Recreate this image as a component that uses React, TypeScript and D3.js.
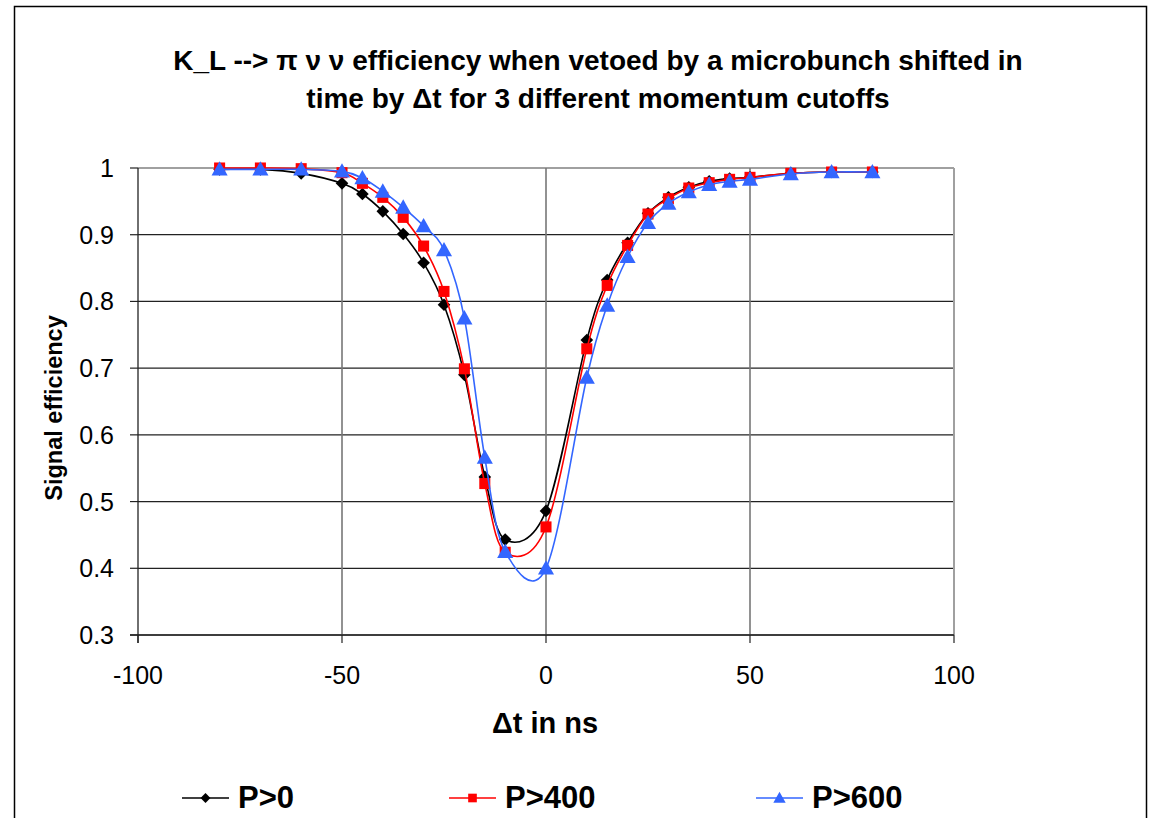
import React from "react";
import * as d3 from "d3";

const deltaT = [-80, -70, -60, -50, -45, -40, -35, -30, -25, -20, -15, -10, 0, 10, 15, 20, 25, 30, 35, 40, 45, 50, 60, 70, 80];
const effP0 = [0.998, 0.998, 0.992, 0.977, 0.961, 0.935, 0.901, 0.858, 0.795, 0.690, 0.537, 0.443, 0.486, 0.742, 0.832, 0.888, 0.932, 0.956, 0.971, 0.980, 0.984, 0.986, 0.992, 0.994, 0.994];
const effP400 = [1.0, 1.0, 0.999, 0.993, 0.977, 0.956, 0.926, 0.883, 0.815, 0.699, 0.527, 0.424, 0.462, 0.729, 0.824, 0.884, 0.931, 0.954, 0.970, 0.978, 0.983, 0.986, 0.992, 0.994, 0.994];
const effP600 = [0.998, 0.998, 0.998, 0.995, 0.985, 0.965, 0.941, 0.913, 0.877, 0.775, 0.566, 0.425, 0.400, 0.686, 0.794, 0.867, 0.918, 0.947, 0.964, 0.975, 0.980, 0.983, 0.991, 0.994, 0.994];
const seriesNames = ["P>0", "P>400", "P>600"];
const xTicks = [-100, -50, 0, 50, 100];
const yTicks = [0.3, 0.4, 0.5, 0.6, 0.7, 0.8, 0.9, 1];
const titleLines = [
  "K_L --> \u03c0 \u03bd \u03bd efficiency when vetoed by a microbunch shifted in",
  "time by \u0394t for 3 different momentum cutoffs",
];

const W = 1149;
const H = 818;
const plot = { left: 138, right: 954, top: 168, bottom: 635 };
const colors = ["#000000", "#ff0000", "#3366ff"];
const FONT = "'Liberation Sans', Arial, sans-serif";

function Marker({ kind, x, y, s, color }: { kind: number; x: number; y: number; s: number; color: string }) {
  if (kind === 0) {
    const r = s * 0.55;
    return <path d={`M${x},${y - r}L${x + r},${y}L${x},${y + r}L${x - r},${y}Z`} fill={color} />;
  }
  if (kind === 1) {
    const r = s * 0.48;
    return <rect x={x - r} y={y - r} width={2 * r} height={2 * r} fill={color} />;
  }
  const w = s * 0.62;
  return <path d={`M${x},${y - w}L${x + w},${y + w * 0.78}L${x - w},${y + w * 0.78}Z`} fill={color} />;
}

export default function App() {
  const x = d3.scaleLinear().domain([-100, 100]).range([plot.left, plot.right]);
  const y = d3.scaleLinear().domain([0.3, 1]).range([plot.bottom, plot.top]);
  const series = [effP0, effP400, effP600];
  const line = d3
    .line<[number, number]>()
    .x((d) => x(d[0]))
    .y((d) => y(d[1]))
    .curve(d3.curveCardinal.tension(0));

  const legendX = [182, 449, 756];

  return (
    <svg width={W} height={H} style={{ position: "absolute", left: 0, top: 0, background: "#fff" }} fontFamily={FONT}>
      <rect x={0} y={0} width={W} height={H} fill="#fff" />
      <rect x={14.5} y={6.5} width={1132} height={840} fill="none" stroke="#000" strokeWidth={1.5} />

      {titleLines.map((t, i) => (
        <text key={i} x={598} y={70 + i * 38} textAnchor="middle" fontSize={28} fontWeight="bold" fill="#000">
          {t}
        </text>
      ))}

      {/* horizontal gridlines */}
      {yTicks.map((t) => (
        <line key={"h" + t} x1={plot.left} x2={plot.right} y1={y(t)} y2={y(t)} stroke={t === 1 ? "#a0a0a0" : "#222"} strokeWidth={t === 1 ? 2 : 1.2} />
      ))}
      {/* vertical gridlines */}
      {xTicks.filter((t) => t !== -100).map((t) => (
        <line key={"v" + t} x1={x(t)} x2={x(t)} y1={plot.top} y2={plot.bottom} stroke={t === 100 ? "#a0a0a0" : "#777"} strokeWidth={t === 100 ? 2 : 1.6} />
      ))}
      {/* axes */}
      <line x1={plot.left} x2={plot.left} y1={plot.top} y2={plot.bottom + 8} stroke="#222" strokeWidth={1.3} />
      <line x1={plot.left - 8} x2={plot.right} y1={plot.bottom} y2={plot.bottom} stroke="#222" strokeWidth={1.3} />
      {yTicks.map((t) => (
        <g key={"yt" + t}>
          <line x1={plot.left - 8} x2={plot.left} y1={y(t)} y2={y(t)} stroke="#222" strokeWidth={1.2} />
          <text x={114} y={y(t)} dy="0.36em" textAnchor="end" fontSize={25} fill="#000">
            {d3.format("")(t)}
          </text>
        </g>
      ))}
      {xTicks.map((t) => (
        <g key={"xt" + t}>
          <line x1={x(t)} x2={x(t)} y1={plot.bottom} y2={plot.bottom + 8} stroke="#222" strokeWidth={1.2} />
          <text x={x(t)} y={684} textAnchor="middle" fontSize={25} fill="#000">
            {t}
          </text>
        </g>
      ))}

      <text x={545} y={733} textAnchor="middle" fontSize={29} fontWeight="bold" fill="#000">
        {"\u0394t in ns"}
      </text>
      <text transform={`translate(62,408) rotate(-90)`} textAnchor="middle" fontSize={23.5} fontWeight="bold" fill="#000">
        Signal efficiency
      </text>

      {series.map((vals, si) => {
        const pts = deltaT.map((t, i) => [t, vals[i]] as [number, number]);
        return (
          <g key={"s" + si}>
            <path d={line(pts) || ""} fill="none" stroke={colors[si]} strokeWidth={1.6} />
            {pts.map((p, i) => (
              <Marker key={i} kind={si} x={x(p[0])} y={y(p[1])} s={si === 2 ? 13 : 11.5} color={colors[si]} />
            ))}
          </g>
        );
      })}

      {seriesNames.map((n, i) => (
        <g key={"lg" + i}>
          <line x1={legendX[i]} x2={legendX[i] + 47} y1={798} y2={798} stroke={colors[i]} strokeWidth={1.6} />
          <Marker kind={i} x={legendX[i] + 23.5} y={798} s={i === 2 ? 10 : 9} color={colors[i]} />
          <text x={legendX[i] + 56} y={808} fontSize={31} fontWeight="bold" fill="#000">
            {n}
          </text>
        </g>
      ))}
    </svg>
  );
}
